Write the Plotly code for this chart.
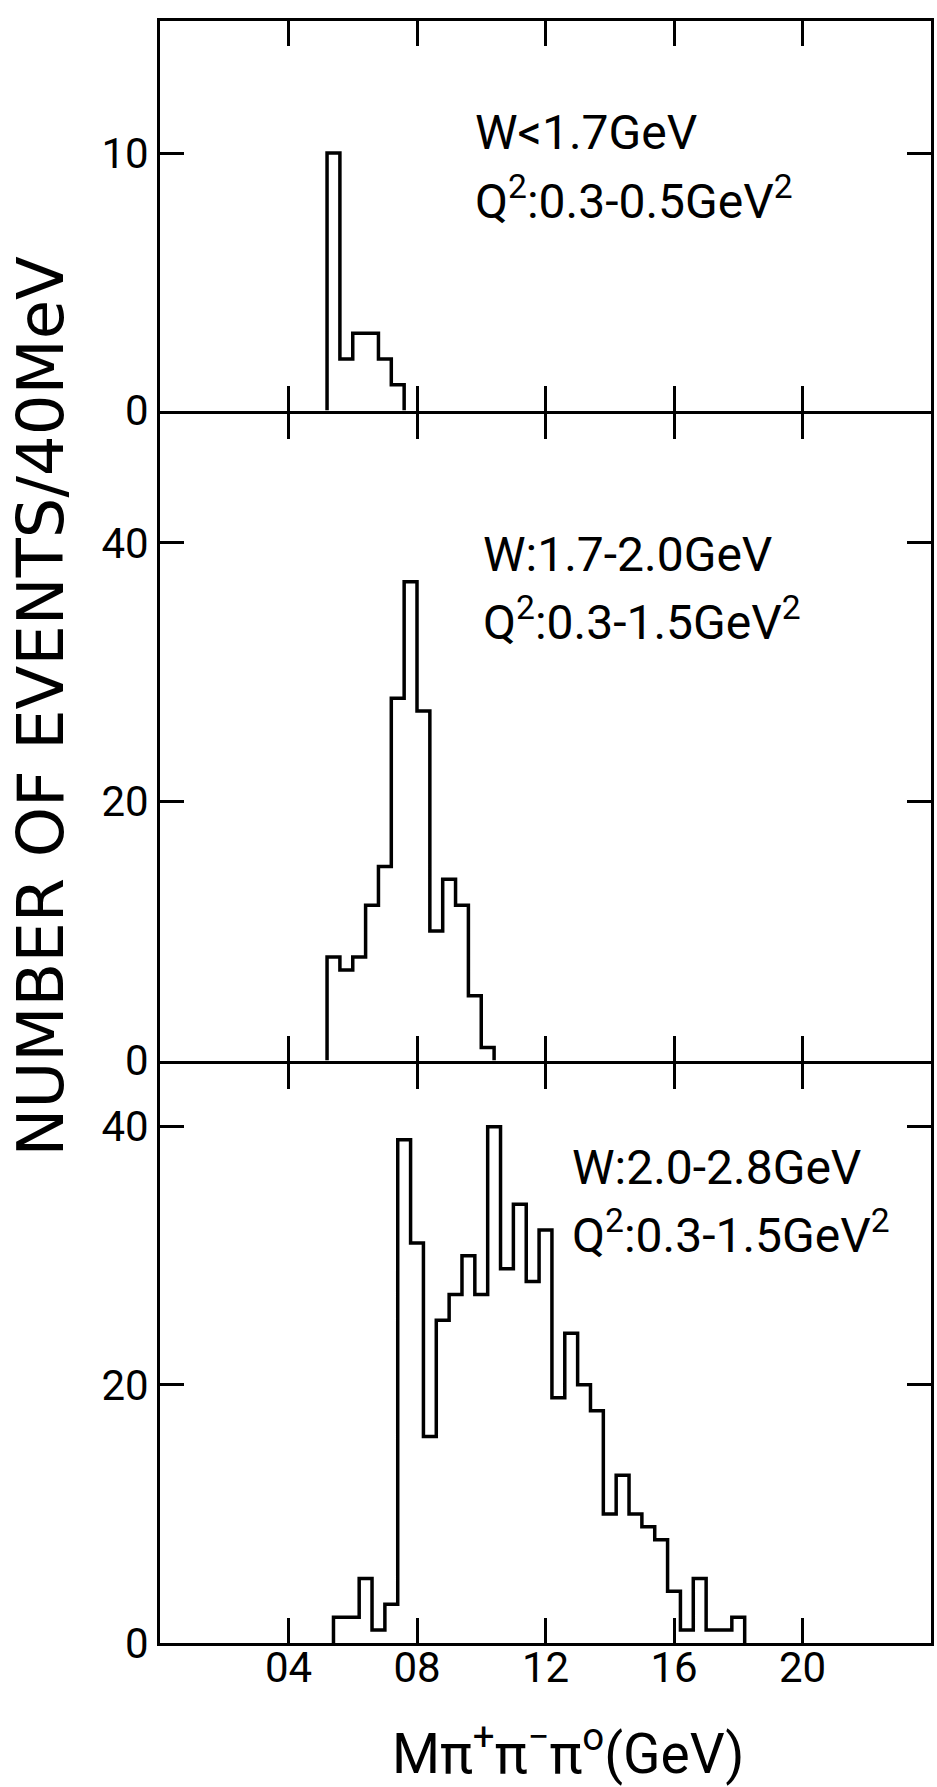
import plotly.graph_objects as go

# ---------------- data ----------------
bin_width = 0.04  # GeV  (40 MeV bins)

top_start = 0.52
top_counts = [10, 2, 3, 3, 2, 1]

mid_start = 0.52
mid_counts = [8, 7, 8, 12, 15, 28, 37, 27, 10, 14, 12, 5, 1]

bot_start = 0.54
bot_counts = [2, 2, 5, 1, 3, 39, 31, 16, 25, 27, 30, 27, 40, 29, 34, 28,
              32, 19, 24, 20, 18, 10, 13, 10, 9, 8, 4, 1, 5, 1, 1, 2]

x_tickvals = [0.4, 0.8, 1.2, 1.6, 2.0]
x_ticktext = ["04", "08", "12", "16", "20"]

top_yticks = [0, 10]
mid_yticks = [0, 20, 40]
bot_yticks = [0, 20, 40]

top_label = ["W&lt;1.7GeV", "Q<sup>2</sup>:0.3-0.5GeV<sup>2</sup>"]
mid_label = ["W:1.7-2.0GeV", "Q<sup>2</sup>:0.3-1.5GeV<sup>2</sup>"]
bot_label = ["W:2.0-2.8GeV", "Q<sup>2</sup>:0.3-1.5GeV<sup>2</sup>"]

y_title = "NUMBER OF EVENTS/40MeV"
x_title = "Mπ<sup>+</sup>π<sup>−</sup>π<sup>o</sup>(GeV)"

# ---------------- geometry (pixels) ----------------
W, H = 937, 1787
L, R, T, B = 160, 934, 21, 1643
PW, PH = R - L, B - T
LW = 3
# panel edges (pixels); neighbouring axis lines overlap at the boundaries
TOP_EDGES = (T, 410.5)
MID_EDGES = (413.5, 1060.5)
BOT_EDGES = (1063.5, B)


def fy(p):
    return (B - p) / PH


def fx(p):
    return (p - L) / PW


FONT = "Roboto, Liberation Sans, sans-serif"
WIDE = "DejaVu Sans, Liberation Sans, sans-serif"


def step_path(start, counts):
    edges = [start + i * bin_width for i in range(len(counts) + 1)]
    xs = [edges[0]] + edges
    ys = [0] + list(counts) + [0]
    return xs, ys


fig = go.Figure()
panels = [
    ("x", "y", bot_start, bot_counts),
    ("x2", "y2", mid_start, mid_counts),
    ("x3", "y3", top_start, top_counts),
]
for xa, ya, st, cts in panels:
    xs, ys = step_path(st, cts)
    fig.add_trace(go.Scatter(x=xs, y=ys, mode="lines", xaxis=xa, yaxis=ya,
                             line=dict(color="black", width=3.5, shape="hv"),
                             showlegend=False, hoverinfo="skip"))

axis_common = dict(showline=True, linewidth=LW, linecolor="black", mirror="ticks",
                   ticks="inside", tickwidth=3, tickcolor="black",
                   showgrid=False, zeroline=False,
                   tickfont=dict(family=FONT, size=42, color="black"))

xcommon = dict(axis_common, range=[0, 2.4], tickvals=x_tickvals, ticktext=x_ticktext,
               ticklen=25, domain=[0, 1])

fig.update_layout(
    width=W, height=H, autosize=False,
    margin=dict(l=L, r=W - R, t=T, b=H - B, pad=0),
    paper_bgcolor="white", plot_bgcolor="white",
    xaxis=dict(xcommon, anchor="y", showticklabels=True, ticklabelstandoff=-14),
    xaxis2=dict(xcommon, anchor="y2", showticklabels=False, matches="x"),
    xaxis3=dict(xcommon, anchor="y3", showticklabels=False, matches="x"),
    yaxis=dict(axis_common, anchor="x", domain=[fy(BOT_EDGES[1]), fy(BOT_EDGES[0])],
               range=[0, 44.9], tickvals=bot_yticks, ticklen=24),
    yaxis2=dict(axis_common, anchor="x2", domain=[fy(MID_EDGES[1]), fy(MID_EDGES[0])],
                range=[0, 50], tickvals=mid_yticks, ticklen=24),
    yaxis3=dict(axis_common, anchor="x3", domain=[fy(TOP_EDGES[1]), fy(TOP_EDGES[0])],
                range=[0, 15.13], tickvals=top_yticks, ticklen=24),
)

ann_font = dict(family=FONT, size=48, color="black")
label_pos = [
    (top_label, 474, 132, 198),
    (mid_label, 482, 554, 619),
    (bot_label, 572, 1167, 1232),
]
for lines, left, y1, y2 in label_pos:
    for txt, yc in zip(lines, (y1, y2)):
        fig.add_annotation(text=txt, xref="paper", yref="paper", x=fx(left), y=fy(yc),
                           xanchor="left", yanchor="middle", showarrow=False,
                           font=ann_font, align="left")

fig.add_annotation(text=y_title, xref="paper", yref="paper", x=fx(41), y=fy(706),
                   xanchor="center", yanchor="middle", textangle=-90, showarrow=False,
                   font=dict(family=WIDE, size=64, color="black"))

fig.add_annotation(text=x_title, xref="paper", yref="paper", x=fx(570), y=fy(1750),
                   xanchor="center", yanchor="middle", showarrow=False,
                   font=dict(family=FONT, size=55, color="black"))

fig.write_html("out.html")
